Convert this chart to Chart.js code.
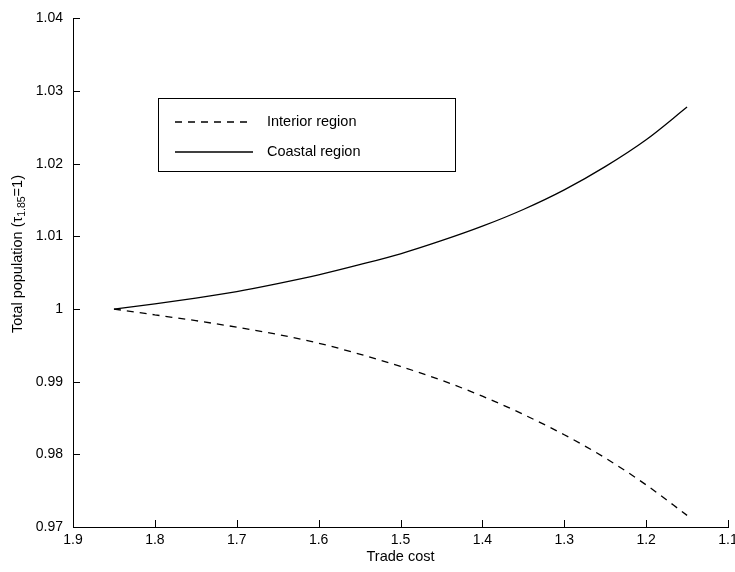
<!DOCTYPE html>
<html lang="en">
<head>
    <meta charset="UTF-8">
    <title>Total population vs trade cost</title>
    <style>
        html, body { margin: 0; padding: 0; background: #fff; }
        canvas { display: block; }
    </style>
</head>
<body>
    <canvas id="myChart" width="735" height="572"></canvas>

    <script src="https://cdn.jsdelivr.net/npm/chart.js"></script>
    <script>
        // trade cost (x) every 0.05
        const tradeCost = [1.85, 1.80, 1.75, 1.70, 1.65, 1.60, 1.55, 1.50, 1.45, 1.40, 1.35, 1.30, 1.25, 1.20, 1.15];
        const interior  = [1.0000, 0.9992, 0.9984, 0.9975, 0.9965, 0.9953, 0.9938, 0.9921, 0.9902, 0.9880, 0.9855, 0.9827, 0.9795, 0.9758, 0.9716];
        const coastal   = [1.0000, 1.0007, 1.0015, 1.0024, 1.0035, 1.0047, 1.0061, 1.0076, 1.0094, 1.0114, 1.0137, 1.0164, 1.0196, 1.0233, 1.0278];

        const xTicks = [1.9, 1.8, 1.7, 1.6, 1.5, 1.4, 1.3, 1.2, 1.1];
        const xTickLabels = ['1.9', '1.8', '1.7', '1.6', '1.5', '1.4', '1.3', '1.2', '1.1'];
        const yTicks = [0.97, 0.98, 0.99, 1.00, 1.01, 1.02, 1.03, 1.04];
        const yTickLabels = ['0.97', '0.98', '0.99', '1', '1.01', '1.02', '1.03', '1.04'];

        const FONT = '"Liberation Sans", Arial, Helvetica, sans-serif';
        Chart.defaults.font.family = FONT;
        Chart.defaults.font.size = 14;
        Chart.defaults.color = '#000';

        const toPoints = (ys) => tradeCost.map((x, i) => ({ x: x, y: ys[i] }));

        // matlab style ticks pointing into the plot
        const innerTicks = {
            id: 'innerTicks',
            afterDraw(chart) {
                const { ctx, chartArea: a, scales: { x, y } } = chart;
                ctx.save();
                ctx.strokeStyle = '#000';
                ctx.lineWidth = 1;
                ctx.beginPath();
                x.ticks.forEach(t => {
                    const px = Math.round(x.getPixelForValue(t.value)) + 0.5;
                    ctx.moveTo(px, a.bottom);
                    ctx.lineTo(px, a.bottom - 7);
                });
                y.ticks.forEach(t => {
                    const py = Math.round(y.getPixelForValue(t.value)) + 0.5;
                    ctx.moveTo(a.left, py);
                    ctx.lineTo(a.left + 7, py);
                });
                ctx.stroke();
                ctx.restore();
            }
        };

        // y title has a subscript, so it is drawn by hand
        const yTitle = {
            id: 'yTitle',
            afterDraw(chart) {
                const ctx = chart.ctx;
                const parts = [
                    { t: 'Total population (\u03C4', size: 14.5, dy: 0 },
                    { t: '1.85', size: 10.5, dy: 4 },
                    { t: '=1)', size: 14.5, dy: 0 }
                ];
                ctx.save();
                ctx.translate(18, 254);
                ctx.rotate(-Math.PI / 2);
                ctx.fillStyle = '#000';
                ctx.textBaseline = 'middle';
                let total = 0;
                parts.forEach(p => { ctx.font = p.size + 'px ' + FONT; p.w = ctx.measureText(p.t).width; total += p.w; });
                let cx = -total / 2;
                parts.forEach(p => {
                    ctx.font = p.size + 'px ' + FONT;
                    ctx.fillText(p.t, cx, p.dy);
                    cx += p.w;
                });
                ctx.restore();
            }
        };

        // boxed legend inside the plot
        const boxLegend = {
            id: 'boxLegend',
            afterDraw(chart) {
                const ctx = chart.ctx;
                const box = { x: 158.5, y: 98.5, w: 297, h: 73 };
                ctx.save();
                ctx.fillStyle = '#fff';
                ctx.fillRect(box.x, box.y, box.w, box.h);
                ctx.strokeStyle = '#000';
                ctx.lineWidth = 1;
                ctx.strokeRect(box.x, box.y, box.w, box.h);
                ctx.font = '14.5px ' + FONT;
                ctx.textBaseline = 'middle';
                chart.data.datasets.forEach((ds, i) => {
                    const ly = 122 + i * 30;
                    ctx.beginPath();
                    ctx.setLineDash(ds.borderDash || []);
                    ctx.lineWidth = ds.borderWidth;
                    ctx.strokeStyle = ds.borderColor;
                    ctx.moveTo(175, ly);
                    ctx.lineTo(253, ly);
                    ctx.stroke();
                    ctx.setLineDash([]);
                    ctx.fillStyle = '#000';
                    ctx.fillText(ds.label, 267, ly);
                });
                ctx.restore();
            }
        };

        const ctx = document.getElementById('myChart').getContext('2d');
        new Chart(ctx, {
            type: 'line',
            data: {
                datasets: [{
                    label: 'Interior region',
                    data: toPoints(interior),
                    borderColor: '#000',
                    borderWidth: 1.3,
                    borderDash: [7, 6],
                    pointRadius: 0,
                    fill: false,
                    cubicInterpolationMode: 'monotone'
                }, {
                    label: 'Coastal region',
                    data: toPoints(coastal),
                    borderColor: '#000',
                    borderWidth: 1.3,
                    pointRadius: 0,
                    fill: false,
                    cubicInterpolationMode: 'monotone'
                }]
            },
            options: {
                responsive: false,
                animation: false,
                layout: { padding: { top: 14, right: 7, left: 0, bottom: 0 } },
                plugins: {
                    legend: { display: false },
                    tooltip: { enabled: false }
                },
                scales: {
                    x: {
                        type: 'linear',
                        reverse: true,
                        min: 1.1,
                        max: 1.9,
                        afterBuildTicks: (s) => { s.ticks = xTicks.map(v => ({ value: v })); },
                        afterFit: (s) => { s.height = 45; s.paddingRight = 0; },
                        ticks: {
                            padding: 5,
                            maxRotation: 0,
                            autoSkip: false,
                            callback: (v) => xTickLabels[xTicks.indexOf(v)]
                        },
                        grid: { display: true, drawOnChartArea: false, drawTicks: false },
                        border: { display: true, color: '#000', width: 1 },
                        title: { display: true, text: 'Trade cost', font: { size: 14.5 }, padding: { top: 2, bottom: 6 } }
                    },
                    y: {
                        min: 0.97,
                        max: 1.04,
                        afterBuildTicks: (s) => { s.ticks = yTicks.map(v => ({ value: v })); },
                        afterFit: (s) => { s.width = 73; },
                        ticks: {
                            padding: 10,
                            autoSkip: false,
                            callback: (v) => yTickLabels[yTicks.indexOf(v)]
                        },
                        grid: { display: true, drawOnChartArea: false, drawTicks: false },
                        border: { display: true, color: '#000', width: 1 }
                    }
                }
            },
            plugins: [innerTicks, yTitle, boxLegend]
        });
    </script>
</body>
</html>
